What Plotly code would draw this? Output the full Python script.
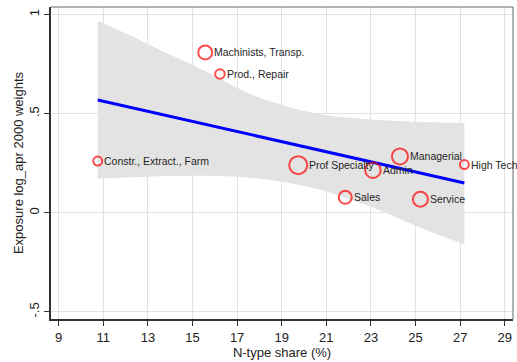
import plotly.graph_objects as go

# ---- data ----
occupations = ["Machinists, Transp.", "Prod., Repair", "Constr., Extract., Farm",
               "Prof Specialty", "Admin", "Managerial", "High Tech", "Sales", "Service"]
ntype_share = [15.57, 16.23, 10.75, 19.74, 23.09, 24.30, 27.19, 21.85, 25.22]
exposure = [0.809, 0.700, 0.261, 0.240, 0.215, 0.284, 0.243, 0.078, 0.068]
weight_size = [14, 9.5, 9, 18, 15.5, 16, 9, 13, 15]

fit_x = [10.75, 27.19]
fit_y = [0.569, 0.150]

band_x = [10.75, 12, 13, 14, 15, 16, 17, 18, 19, 20, 21, 22, 23, 24, 25, 26, 27.19]
band_hi = [0.969, 0.905, 0.850, 0.797, 0.745, 0.690, 0.630, 0.580, 0.545, 0.513, 0.492, 0.479, 0.470, 0.464, 0.459, 0.456, 0.452]
band_lo = [0.173, 0.178, 0.182, 0.185, 0.187, 0.186, 0.182, 0.172, 0.157, 0.135, 0.107, 0.070, 0.030, -0.017, -0.066, -0.110, -0.160]

x_ticks = [9, 11, 13, 15, 17, 19, 21, 23, 25, 27, 29]
y_ticks = [-0.5, 0, 0.5, 1]
y_tick_labels = ["-.5", "0", ".5", "1"]

FONT = "Liberation Sans, Arial, sans-serif"

fig = go.Figure()

# confidence band
fig.add_trace(go.Scatter(x=band_x, y=band_hi, mode="lines", line=dict(width=0, shape="spline"),
                         hoverinfo="skip", showlegend=False))
fig.add_trace(go.Scatter(x=band_x, y=band_lo, mode="lines", line=dict(width=0, shape="spline"),
                         fill="tonexty", fillcolor="#e3e3e3", hoverinfo="skip", showlegend=False))

# fitted line
fig.add_trace(go.Scatter(x=fit_x, y=fit_y, mode="lines", line=dict(color="#0000ff", width=3),
                         showlegend=False))

# scatter circles
fig.add_trace(go.Scatter(x=ntype_share, y=exposure, mode="markers",
                         marker=dict(size=weight_size, color="rgba(0,0,0,0)",
                                     line=dict(color="#ff0000", width=2)),
                         showlegend=False, cliponaxis=False))

annotations = []
for name, xv, yv, s in zip(occupations, ntype_share, exposure, weight_size):
    annotations.append(dict(x=xv, y=yv, xref="x", yref="y", text=name, showarrow=False,
                            xanchor="left", yanchor="middle", xshift=s / 2,
                            font=dict(family=FONT, size=10.5, color="#262626")))

fig.update_layout(
    width=517, height=362,
    margin=dict(l=51, r=4, t=7, b=38),
    paper_bgcolor="white", plot_bgcolor="white",
    font=dict(family=FONT, color="#222222"),
    annotations=annotations,
    shapes=[
        dict(type="line", xref="paper", yref="paper", x0=0, x1=1, y0=1, y1=1,
             line=dict(color="#666666", width=1)),
        dict(type="line", xref="paper", yref="paper", x0=1, x1=1, y0=0, y1=1,
             line=dict(color="#666666", width=1)),
    ],
    xaxis=dict(range=[8.655, 29.37], tickvals=x_ticks, ticks="outside", ticklen=5,
               tickcolor="#333333", showline=True, linecolor="#333333", linewidth=2,
               showgrid=True, gridcolor="#e2e2e2", gridwidth=1, zeroline=False,
               tickfont=dict(size=13),
               title=dict(text="N-type share (%)", font=dict(size=13), standoff=4)),
    yaxis=dict(range=[-0.536, 1.038], tickvals=y_ticks, ticktext=y_tick_labels,
               ticks="outside", ticklen=5, tickcolor="#333333", tickangle=-90,
               showline=True, linecolor="#333333", linewidth=2,
               showgrid=True, gridcolor="#e2e2e2", gridwidth=1, zeroline=False,
               tickfont=dict(size=13),
               title=dict(text="Exposure log_apr 2000 weights", font=dict(size=13), standoff=0)),
)

fig.write_html("out.html", config={"displayModeBar": False},
               post_script="document.body.style.margin='0';document.body.style.overflow='hidden';")
